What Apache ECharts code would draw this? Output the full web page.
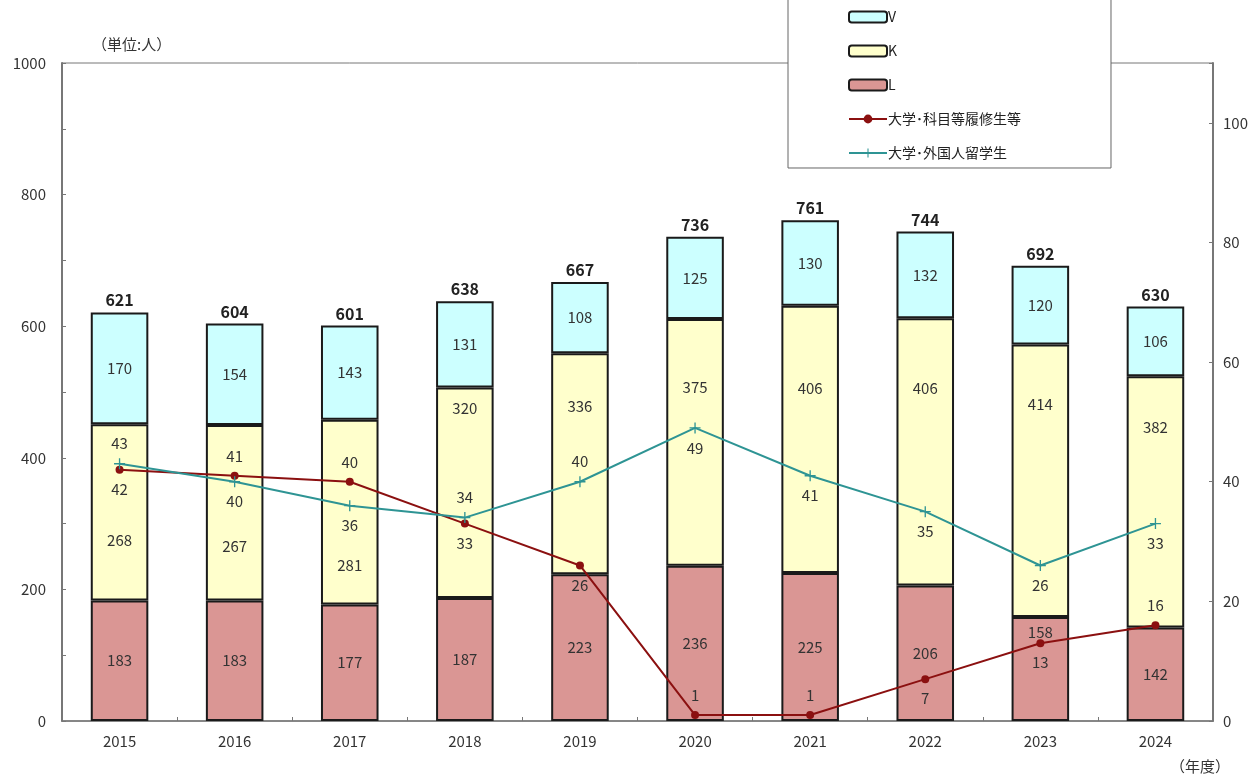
<!DOCTYPE html>
<html>
<head>
<meta charset="utf-8">
<script src="https://cdn.jsdelivr.net/npm/echarts@6/dist/echarts.min.js"></script>
<style>
  html, body { margin: 0; padding: 0; background: #fff; }
  #chart { width: 1259px; height: 778px; }
</style>
</head>
<body>
<div id="chart"></div>
<script>
// 年度
const years = ['2015', '2016', '2017', '2018', '2019', '2020', '2021', '2022', '2023', '2024'];

// 在籍者数（人）— 積み上げ棒
const valuesL = [183, 183, 177, 187, 223, 236, 225, 206, 158, 142];
const valuesK = [268, 267, 281, 320, 336, 375, 406, 406, 414, 382];
const valuesV = [170, 154, 143, 131, 108, 125, 130, 132, 120, 106];
const totals  = [621, 604, 601, 638, 667, 736, 761, 744, 692, 630];

// 折れ線（右軸）
const rishusei   = [42, 41, 40, 33, 26, 1, 1, 7, 13, 16];
const ryugakusei = [43, 40, 36, 34, 40, 49, 41, 35, 26, 33];

// 目盛
const leftTicks  = { min: 0, max: 1000, interval: 200 };
const rightTicks = { min: 0, max: 110, interval: 20, lastLabel: 100 };

// 折れ線ラベルの上下位置
const rishuseiLabelPos   = ['bottom', 'top', 'top', 'bottom', 'bottom', 'top', 'top', 'bottom', 'bottom', 'top'];
const ryugakuseiLabelPos = ['top', 'bottom', 'bottom', 'top', 'top', 'bottom', 'bottom', 'bottom', 'bottom', 'bottom'];

// 棒内ラベルのずらし量（px、折れ線と重ならないように）
const kLabelShift = [28, 34, 53, -84, -57, -55, -51, -64, -77, -75];
const lLabelShift = [0, 0, 0, 0, 0, 0, 0, 0, -37, 0];

const FONT = '"Noto Sans CJK JP", "Noto Sans", sans-serif';
const TEXT = '#333';
const EDGE = '#1a1a1a';
const FS = 15;

const chart = echarts.init(document.getElementById('chart'), null, { renderer: 'canvas' });

function barSeries(name, values, fill, shifts) {
  return {
    name: name,
    type: 'bar',
    stack: 'total',
    barWidth: '50%',
    data: values.map((v, i) => ({
      value: v,
      label: { offset: [0, shifts ? shifts[i] : 0] }
    })),
    itemStyle: { color: fill, borderColor: EDGE, borderWidth: 2 },
    label: {
      show: true, position: 'inside',
      color: TEXT, fontSize: FS, fontFamily: FONT
    },
    emphasis: { disabled: true },
    z: 2
  };
}

function lineData(values, positions) {
  return values.map((v, i) => ({ value: v, label: { position: positions[i] } }));
}

const option = {
  animation: false,
  textStyle: { fontFamily: FONT },
  grid: {
    left: 62, right: 46, top: 63, bottom: 57,
    show: true, borderColor: '#777', borderWidth: 1, backgroundColor: 'transparent'
  },
  legend: {
    data: ['V', 'K', 'L', '大学･科目等履修生等', '大学･外国人留学生'],
    orient: 'vertical',
    left: 788, top: -2,
    padding: [12, 90, 8, 60],
    itemGap: 20,
    itemWidth: 38, itemHeight: 11,
    backgroundColor: '#fff',
    borderColor: '#666', borderWidth: 1,
    textStyle: { color: '#222', fontSize: 14, fontFamily: FONT, padding: [0, 0, 0, -4] },
    z: 20
  },
  xAxis: {
    type: 'category',
    data: years,
    axisLine: { lineStyle: { color: '#777', width: 1.5 } },
    axisTick: { show: true, inside: true, length: 4, lineStyle: { color: '#777' } },
    axisLabel: { color: TEXT, fontSize: FS, fontFamily: FONT, margin: 13 }
  },
  yAxis: [
    {
      type: 'value',
      min: leftTicks.min, max: leftTicks.max, interval: leftTicks.interval,
      axisLine: { show: true, lineStyle: { color: '#777', width: 2 } },
      axisTick: { show: true, inside: true, length: 4, lineStyle: { color: '#777' } },
      minorTick: { show: true, splitNumber: 2, length: 4, lineStyle: { color: '#777' } },
      splitLine: { show: false },
      axisLabel: {
        color: TEXT, fontSize: FS, fontFamily: FONT, margin: 16, align: 'right',
        formatter: v => String(v)
      }
    },
    {
      type: 'value',
      min: rightTicks.min, max: rightTicks.max, interval: rightTicks.interval,
      position: 'right',
      axisLine: { show: true, lineStyle: { color: '#777', width: 2 } },
      axisTick: { show: true, inside: true, length: 4, lineStyle: { color: '#777' } },
      splitLine: { show: false },
      axisLabel: {
        color: TEXT, fontSize: FS, fontFamily: FONT, margin: 10,
        formatter: v => (v > rightTicks.lastLabel ? '' : String(v))
      }
    }
  ],
  series: [
    barSeries('L', valuesL, '#DA9694', lLabelShift),
    barSeries('K', valuesK, '#FFFFCC', kLabelShift),
    barSeries('V', valuesV, '#CCFFFF', null),
    {
      // 合計ラベル（高さゼロの棒の上に表示）
      name: 'total',
      type: 'bar',
      stack: 'total',
      barWidth: '50%',
      data: years.map(() => 0),
      itemStyle: { color: 'transparent', borderWidth: 0 },
      label: {
        show: true, position: 'top', distance: 4,
        color: '#222', fontSize: 16, fontWeight: 'bold', fontFamily: FONT,
        formatter: p => String(totals[p.dataIndex])
      },
      emphasis: { disabled: true },
      z: 3
    },
    {
      name: '大学･科目等履修生等',
      type: 'line',
      yAxisIndex: 1,
      data: lineData(rishusei, rishuseiLabelPos),
      symbol: 'circle', symbolSize: 8,
      lineStyle: { color: '#8B1010', width: 2 },
      itemStyle: { color: '#8B1010' },
      label: { show: true, distance: 8, color: TEXT, fontSize: FS, fontFamily: FONT },
      emphasis: { disabled: true },
      z: 5
    },
    {
      name: '大学･外国人留学生',
      type: 'line',
      yAxisIndex: 1,
      data: lineData(ryugakusei, ryugakuseiLabelPos),
      symbol: 'path://M4.4,0H5.6V4.4H10V5.6H5.6V10H4.4V5.6H0V4.4H4.4Z',
      symbolSize: 11,
      lineStyle: { color: '#2E9494', width: 2 },
      itemStyle: { color: '#2E9494' },
      label: { show: true, distance: 7, color: TEXT, fontSize: FS, fontFamily: FONT },
      emphasis: { disabled: true },
      z: 6
    }
  ],
  graphic: [
    {
      type: 'text', left: 92, top: 37,
      style: { text: '（単位:人）', fill: TEXT, font: '15px ' + FONT }
    },
    {
      type: 'text', left: 1170, top: 759,
      style: { text: '（年度）', fill: TEXT, font: '15px ' + FONT }
    }
  ]
};

chart.setOption(option);
</script>
</body>
</html>
